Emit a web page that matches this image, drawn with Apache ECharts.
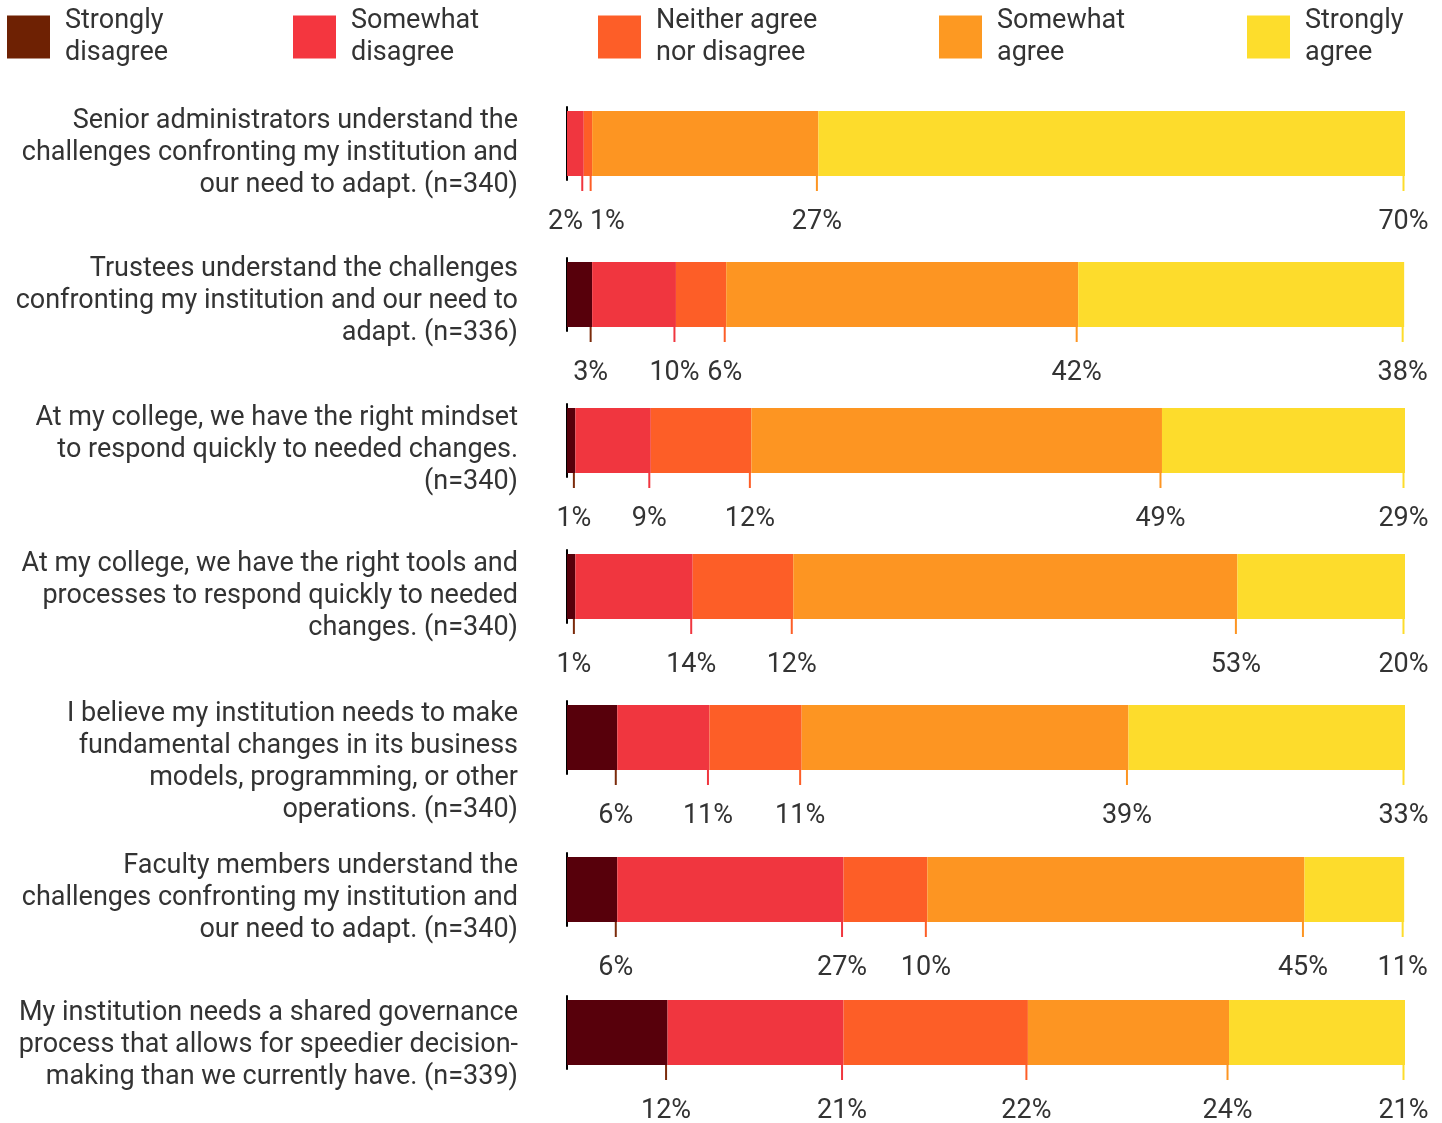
<!DOCTYPE html>
<html><head><meta charset="utf-8">
<script src="https://cdn.jsdelivr.net/npm/echarts@6/dist/echarts.min.js"></script>
<style>html,body{margin:0;padding:0;background:#fff}#c{width:1442px;height:1123px}</style>
</head><body><div id="c"></div>
<script>
// ---------- DATA ----------
const categories = [
  'Senior administrators understand the\nchallenges confronting my institution and\nour need to adapt. (n=340)',
  'Trustees understand the challenges\nconfronting my institution and our need to\nadapt. (n=336)',
  'At my college, we have the right mindset\nto respond quickly to needed changes.\n(n=340)',
  'At my college, we have the right tools and\nprocesses to respond quickly to needed\nchanges. (n=340)',
  'I believe my institution needs to make\nfundamental changes in its business\nmodels, programming, or other\noperations. (n=340)',
  'Faculty members understand the\nchallenges confronting my institution and\nour need to adapt. (n=340)',
  'My institution needs a shared governance\nprocess that allows for speedier decision-\nmaking than we currently have. (n=339)'
];
const seriesNames = ['Strongly disagree', 'Somewhat disagree', 'Neither agree nor disagree', 'Somewhat agree', 'Strongly agree'];
const legendLabels = ['Strongly\ndisagree', 'Somewhat\ndisagree', 'Neither agree\nnor disagree', 'Somewhat\nagree', 'Strongly\nagree'];

const stronglyDisagree = [0, 3, 1, 1, 6, 6, 12];
const somewhatDisagree = [2, 10, 9, 14, 11, 27, 21];
const neitherAgree     = [1, 6, 12, 12, 11, 10, 22];
const somewhatAgree    = [27, 42, 49, 53, 39, 45, 24];
const stronglyAgree    = [70, 38.9, 29, 20, 33, 11.9, 21];   // bar lengths
const stronglyAgreePrinted = [70, 38, 29, 20, 33, 11, 21];   // percentages printed under the bars

// ---------- STYLE / LAYOUT ----------
const barColors    = ['#57000b', '#f0363f', '#fd5e27', '#fd9522', '#fddc2c'];
const legendColors = ['#6e2103', '#f4363f', '#fd5e28', '#fd9922', '#fddd2c'];
const tickColors   = ['#7b2b0b', '#f0363f', '#fd5e27', '#fd9522', '#fddc2c'];
const legendLeft   = [7, 293, 598, 939, 1247];
const barTops      = [111, 262, 408, 554, 705, 857, 1000];
const labelShift   = [-38, -41, -38, -38, -39, -39, -35];
const BAR_H = 65, FONT = 'Roboto', FS = 27, TXT = '#333333', GAP = 7;

const valueSets = [stronglyDisagree, somewhatDisagree, neitherAgree, somewhatAgree, stronglyAgree];
const labelSets = [stronglyDisagree, somewhatDisagree, neitherAgree, somewhatAgree, stronglyAgreePrinted];

const mctx = document.createElement('canvas').getContext('2d');
mctx.font = FS + 'px ' + FONT;

function renderTicks(r) {
  return function (params, api) {
    const yc = api.coord([0, 0])[1];
    const bottom = yc + BAR_H / 2;
    let cum = 0;
    const items = [];
    for (let k = 0; k < 5; k++) {
      const v = valueSets[k][r];
      if (!v) continue;
      cum += v;
      const x = api.coord([cum, 0])[0] - 1.5;
      const text = labelSets[k][r] + '%';
      items.push({ k: k, x: x, cx: x, w: mctx.measureText(text).width, text: text });
    }
    for (let pass = 0; pass < 20; pass++) {
      let moved = false;
      for (let i = 1; i < items.length; i++) {
        const a = items[i - 1], b = items[i];
        const ov = (a.cx + a.w / 2 + GAP) - (b.cx - b.w / 2);
        if (ov > 0.01) { a.cx -= ov / 2; b.cx += ov / 2; moved = true; }
      }
      if (!moved) break;
    }
    const children = [];
    items.forEach(function (it) {
      children.push({ type: 'rect', shape: { x: it.x - 1, y: bottom, width: 2, height: 15 }, style: { fill: tickColors[it.k] } });
      children.push({ type: 'text', style: { x: it.cx, y: bottom + 46, text: it.text, fill: TXT, fontSize: FS, fontFamily: FONT, align: 'center', verticalAlign: 'middle' } });
    });
    return { type: 'group', children: children };
  };
}

const grids = [], xAxes = [], yAxes = [], series = [];
categories.forEach(function (cat, r) {
  grids.push({ left: 567, right: 37, top: barTops[r] - 4, height: BAR_H + 8 });
  xAxes.push({ gridIndex: r, type: 'value', min: 0, max: 100, show: false });
  yAxes.push({
    gridIndex: r, type: 'category', data: [cat],
    axisLine: { show: true, lineStyle: { color: '#000', width: 2 } },
    axisTick: { show: false },
    axisLabel: {
      interval: 0, margin: 49, color: TXT, fontSize: FS, fontFamily: FONT, lineHeight: 32,
      align: 'right', verticalAlign: 'top', padding: [labelShift[r], 0, 0, 0]
    }
  });
  valueSets.forEach(function (vals, k) {
    series.push({
      type: 'bar', name: seriesNames[k], xAxisIndex: r, yAxisIndex: r, stack: 'row' + r,
      barWidth: BAR_H, data: [vals[r]], itemStyle: { color: barColors[k] },
      silent: true, animation: false
    });
  });
  series.push({
    type: 'custom', xAxisIndex: r, yAxisIndex: r, data: [[0, 0]], encode: { x: 0, y: 1 },
    renderItem: renderTicks(r), clip: false, silent: true, z: 5, animation: false
  });
});

const legends = seriesNames.map(function (n, i) {
  return {
    left: legendLeft[i], top: 5, padding: 0, itemWidth: 43, itemHeight: 43, icon: 'rect',
    selectedMode: false, orient: 'horizontal',
    data: [{ name: n, itemStyle: { color: legendColors[i] } }],
    formatter: function () { return legendLabels[i]; },
    textStyle: { fontSize: FS, lineHeight: 32, color: TXT, fontFamily: FONT, padding: [0, 0, 0, 10] }
  };
});

const chart = echarts.init(document.getElementById('c'), null, { renderer: 'canvas' });
chart.setOption({
  backgroundColor: '#fff',
  animation: false,
  textStyle: { fontFamily: FONT },
  legend: legends,
  grid: grids, xAxis: xAxes, yAxis: yAxes, series: series
});
</script></body></html>
